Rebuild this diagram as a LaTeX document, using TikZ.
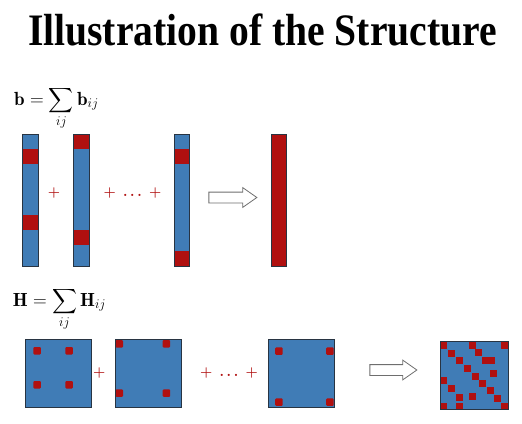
\RequirePackage{fix-cm}
\documentclass[tikz,border=0pt]{standalone}
\usepackage{exscale}
\usepackage{fontspec}
\newfontfamily\titlefont{Liberation Serif}
\usetikzlibrary{shapes.arrows}
\definecolor{blockblue}{RGB}{64,124,182}
\definecolor{blockred}{RGB}{176,16,16}
\definecolor{edgegray}{RGB}{40,52,66}
\definecolor{arrowgray}{RGB}{110,110,110}
\tikzset{
  titletext/.style={anchor=base, inner sep=0pt, xscale=0.88,
    font=\titlefont\bfseries\fontsize{45}{50}\selectfont},
  formula/.style={anchor=base west, inner sep=0pt, font=\fontsize{19}{21}\selectfont},
  vecbar/.style={fill=blockblue, inner sep=0pt, outer sep=0pt,
    minimum width=15.5pt, minimum height=132pt},
  matbox/.style={fill=blockblue, inner sep=0pt, outer sep=0pt,
    minimum width=66pt, minimum height=68pt},
  edgeline/.style={draw=edgegray, line width=0.8pt},
  plussign/.style={text=blockred, inner sep=0pt, font=\fontsize{14}{16}\selectfont\boldmath},
  bigarrow/.style={single arrow, draw=arrowgray, fill=white, line width=0.8pt,
    inner xsep=0pt, inner ysep=5pt, minimum height=48pt,
    single arrow head extend=4.5pt, single arrow tip angle=70}
}
\begin{document}
\begin{tikzpicture}[x=1pt,y=1pt]
  \useasboundingbox (0,0) rectangle (522,-423);
  \node[titletext] (title) at (262.5,-45) {Illustration of the Structure};
  % vector part
  \node[formula] (bform) at (14,-105) {$\displaystyle \mathbf{b}=\sum_{ij}\mathbf{b}_{ij}$};
  \node[vecbar] (b1) at (30.5,-200) {};
  \node[vecbar] (b2) at (81.2,-200) {};
  \node[vecbar] (b3) at (182,-200) {};
  \node[vecbar, fill=blockred] (bsum) at (278.8,-200.3) {};
  \foreach \n/\off in {b1/15, b1/81, b2/0, b2/96, b3/15, b3/117}
    \fill[blockred] ([yshift=-\off pt]\n.north west) rectangle ++(15.5,-15);
  \node[plussign] (pb1) at (54,-193) {$+$};
  \node[plussign] (pb2) at (132.5,-193) {$+\ \ldots\ +$};
  \node[bigarrow] (arrb) at (229,-197.5) {};
  % matrix part
  \node[formula] (Hform) at (12.7,-306) {$\displaystyle \mathbf{H}=\sum_{ij}\mathbf{H}_{ij}$};
  \node[matbox] (H1) at (58.7,-373.3) {};
  \node[matbox] (H2) at (148,-373.3) {};
  \node[matbox] (H3) at (301.2,-373.3) {};
  \node[matbox, minimum width=68pt] (Hsum) at (474.2,-375.5) {};
  \foreach \n/\dx/\dy in {H1/7.6/7.7, H1/39.6/7.7, H1/7.6/41.7, H1/39.6/41.7,
      H2/0.5/0.7, H2/47.7/0.7, H2/0.5/50, H2/47.7/50,
      H3/7/8, H3/58/8, H3/7/59, H3/58/59}
    \fill[blockred, rounded corners=1pt] ([xshift=\dx pt, yshift=-\dy pt]\n.north west) rectangle ++(7.5,-7.5);
  \foreach \dx/\dy in {0/0, 8/8, 16/15.5, 24/23, 31.5/31, 38.5/38.5, 46.5/45.5, 53.5/53, 61/61,
      61/0, 29/0, 35/7.5, 41.5/15, 48/15, 50/28.5,
      0/35.5, 8/43, 15.5/52.5, 15.5/61, 28.5/51.5, 0/61}
    \fill[blockred] ([xshift=\dx pt, yshift=-\dy pt]Hsum.north west) rectangle ++(7,-7);
  \node[plussign] (ph1) at (99.3,-372.7) {$+$};
  \node[plussign] (ph2) at (228.9,-372.7) {$+\ \ldots\ +$};
  \node[bigarrow, minimum height=47pt] (arrH) at (389.5,-370) {};
  % outlines on top
  \foreach \n in {b1,b2,b3,bsum,H1,H2,H3,Hsum}
    \draw[edgeline] (\n.south west) rectangle (\n.north east);
\end{tikzpicture}
\end{document}
